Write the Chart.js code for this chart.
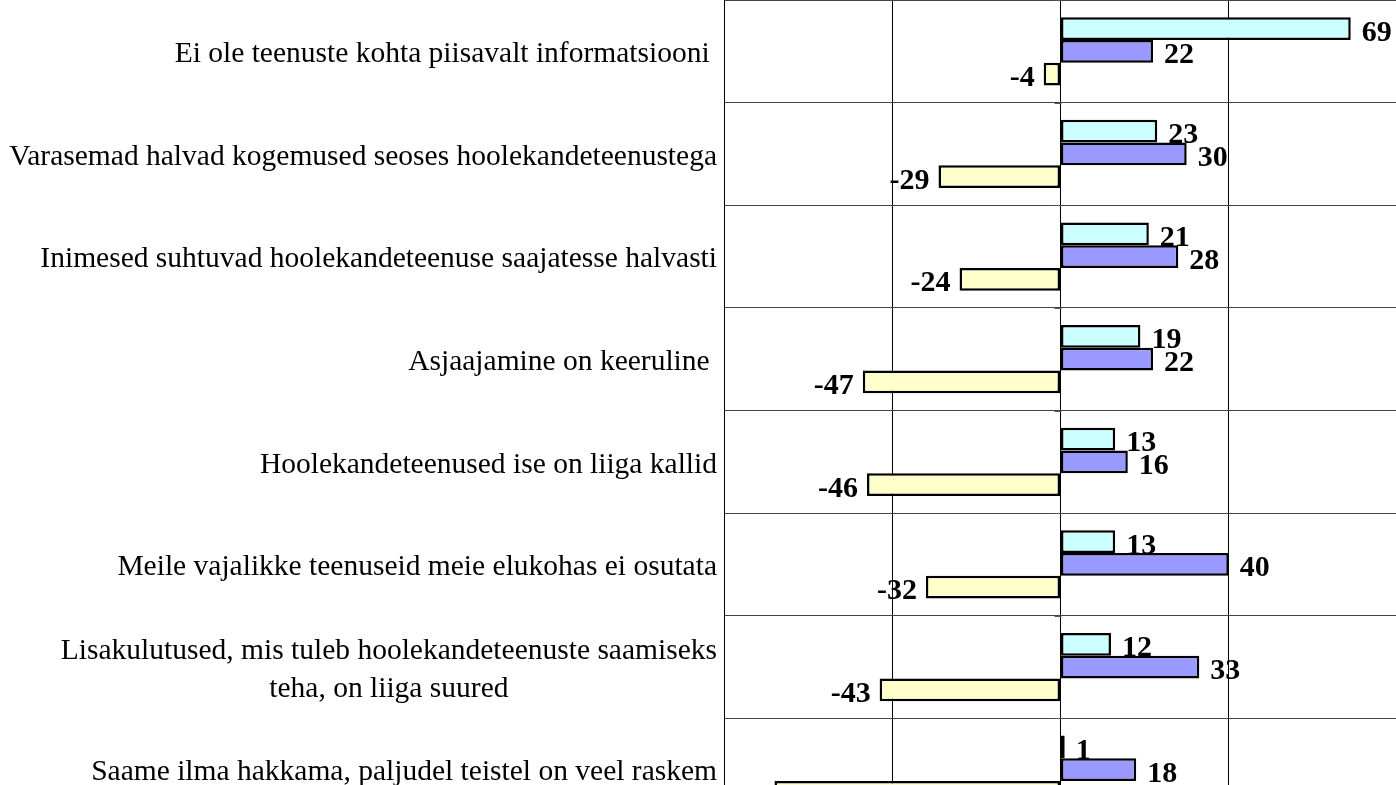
<!DOCTYPE html>
<html>
<head>
<meta charset="utf-8">
<script src="https://cdn.jsdelivr.net/npm/chart.js@4.4.1/dist/chart.umd.min.js"></script>
<style>
  html, body { margin: 0; padding: 0; background: #ffffff; overflow: hidden; }
  #wrap { width: 1397px; height: 821px; }
</style>
</head>
<body>
<div id="wrap"><canvas id="c" width="1397" height="821"></canvas></div>
<script>
const categories = [
  ['Ei ole teenuste kohta piisavalt informatsiooni '],
  ['Varasemad halvad kogemused seoses hoolekandeteenustega'],
  ['Inimesed suhtuvad hoolekandeteenuse saajatesse halvasti'],
  ['Asjaajamine on keeruline '],
  ['Hoolekandeteenused ise on liiga kallid'],
  ['Meile vajalikke teenuseid meie elukohas ei osutata'],
  ['Lisakulutused, mis tuleb hoolekandeteenuste saamiseks', 'teha, on liiga suured'],
  ['Saame ilma hakkama, paljudel teistel on veel raskem']
];
const seriesNames = ['Seeria 1', 'Seeria 2', 'Seeria 3'];
const series1 = [69, 23, 21, 19, 13, 13, 12, 1];
const series2 = [22, 30, 28, 22, 16, 40, 33, 18];
const series3 = [-4, -29, -24, -47, -46, -32, -43, -68];
const xTicks = [-80, -40, 0, 40, 80];
const colors = ['#CCFFFF', '#9999FF', '#FFFFCC'];

const SERIF = '"Liberation Serif", "Times New Roman", serif';

const catLabelsPlugin = {
  id: 'catLabels',
  afterDraw(chart) {
    const ctx = chart.ctx;
    const ys = chart.scales.y;
    const xs = chart.scales.x;
    const right = chart.chartArea.left - 7;
    ctx.save();
    ctx.font = '29.5px ' + SERIF;
    ctx.fillStyle = '#000';
    ctx.textAlign = 'center';
    ctx.textBaseline = 'middle';
    const lh = 38;
    categories.forEach((lines, i) => {
      const cy = ys.getPixelForTick(i) + 3;
      let w = 0;
      lines.forEach(l => { w = Math.max(w, ctx.measureText(l).width); });
      const cx = right - w / 2;
      const y0 = cy - (lines.length - 1) * lh / 2;
      lines.forEach((l, k) => ctx.fillText(l, cx, y0 + k * lh));
    });
    // small tick marks on the zero axis at category boundaries
    const x0 = Math.round(xs.getPixelForValue(0)) + 0.5;
    const step = ys.getPixelForTick(1) - ys.getPixelForTick(0);
    ctx.strokeStyle = '#555';
    ctx.lineWidth = 1;
    for (let i = 0; i <= categories.length; i++) {
      const yb = Math.round(ys.getPixelForTick(0) + (i - 0.5) * step) + 0.5;
      ctx.beginPath();
      ctx.moveTo(x0 - 7, yb);
      ctx.lineTo(x0, yb);
      ctx.stroke();
    }
    ctx.restore();
  },
  afterDatasetsDraw(chart) {
    const ctx = chart.ctx;
    ctx.save();
    ctx.font = 'bold 30px ' + SERIF;
    ctx.fillStyle = '#000';
    ctx.textBaseline = 'alphabetic';
    chart.data.datasets.forEach((ds, di) => {
      const meta = chart.getDatasetMeta(di);
      meta.data.forEach((el, i) => {
        const v = ds.data[i];
        const txt = String(v);
        if (v >= 0) {
          ctx.textAlign = 'left';
          ctx.fillText(txt, el.x + 11, el.y + 12);
        } else {
          ctx.textAlign = 'right';
          ctx.fillText(txt, el.x - 9, el.y + 12);
        }
      });
    });
    ctx.restore();
  }
};

new Chart(document.getElementById('c'), {
  type: 'bar',
  data: {
    labels: categories,
    datasets: [series1, series2, series3].map((d, i) => ({
      label: seriesNames[i],
      data: d,
      backgroundColor: colors[i],
      borderColor: '#000',
      borderWidth: 2.5,
      borderSkipped: false,
      categoryPercentage: 0.665,
      barPercentage: 1.0
    }))
  },
  options: {
    indexAxis: 'y',
    responsive: false,
    animation: false,
    layout: { padding: { top: 0, left: 0, right: 0, bottom: 0 } },
    plugins: { legend: { display: false }, tooltip: { enabled: false } },
    scales: {
      x: {
        min: xTicks[0],
        max: xTicks[xTicks.length - 1],
        afterBuildTicks(scale) { scale.ticks = xTicks.map(v => ({ value: v })); },
        ticks: { display: false },
        grid: { color: '#000', lineWidth: 1, drawTicks: false },
        border: { display: false }
      },
      y: {
        ticks: { display: false },
        grid: { offset: true, color: '#444', lineWidth: 1, drawTicks: false },
        border: { display: true, color: '#000', width: 1 },
        afterFit(scale) { scale.width = 724; }
      }
    }
  },
  plugins: [catLabelsPlugin]
});
</script>
</body>
</html>
